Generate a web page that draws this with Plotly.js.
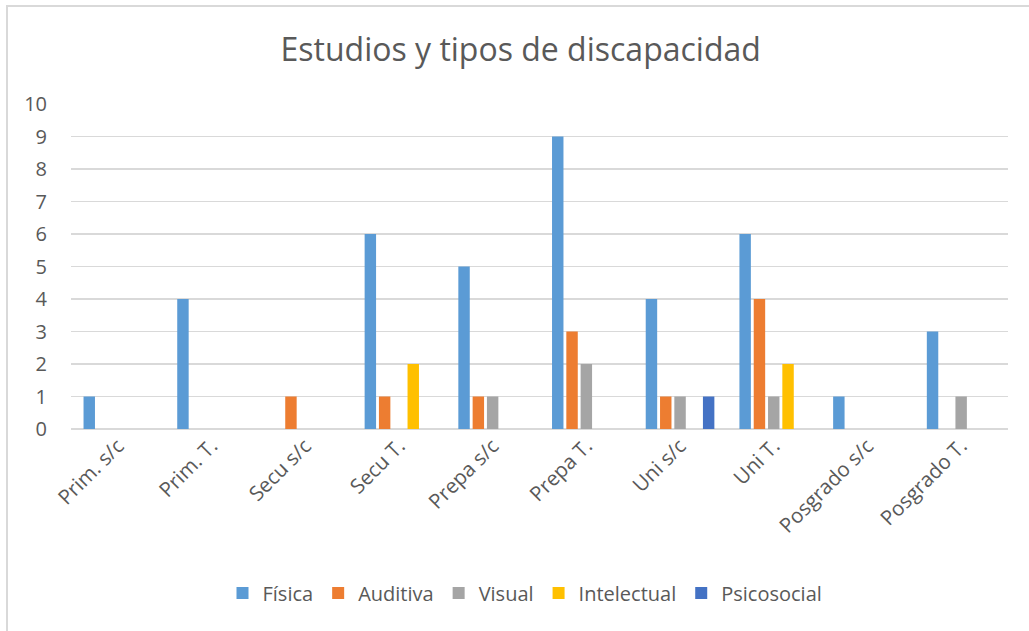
<!DOCTYPE html>
<html>
<head>
<meta charset="utf-8">
<script src="https://cdn.plot.ly/plotly-3.0.1.min.js"></script>
<style>
html,body{margin:0;padding:0;background:#fff;}
#chart{width:1029px;height:631px;}
</style>
</head>
<body>
<div id="chart"></div>
<script>
const categories = ["Prim. s/c","Prim. T.","Secu s/c","Secu T.","Prepa s/c","Prepa T.","Uni s/c","Uni T.","Posgrado s/c","Posgrado T."];
const seriesNames = ["Física","Auditiva","Visual","Intelectual","Psicosocial"];
const fisica      = [1,4,0,6,5,9,4,6,1,3];
const auditiva    = [0,0,1,1,1,3,1,4,0,0];
const visual      = [0,0,0,0,1,2,1,1,0,1];
const intelectual = [0,0,0,2,0,0,0,2,0,0];
const psicosocial = [0,0,0,0,0,0,1,0,0,0];
const yTicks = [0,1,2,3,4,5,6,7,8,9,10];
const colors = ["#5B9BD5","#ED7D31","#A5A5A5","#FFC000","#4472C4"];

const values = [fisica, auditiva, visual, intelectual, psicosocial];
const data = values.map((v, i) => ({
  type: 'bar',
  name: seriesNames[i],
  x: categories,
  y: v,
  marker: {color: colors[i], line: {width: 0}},
  hoverinfo: 'x+y+name'
}));

const L = 71, R = 1008, T = 104, B = 429, W = 1029, H = 631;
const px = v => (v - L) / (R - L);
const py = v => (B - v) / (B - T);

const layout = {
  width: W, height: H,
  margin: {l: L, r: W - R, t: T, b: H - B, pad: 0},
  paper_bgcolor: '#ffffff',
  plot_bgcolor: '#ffffff',
  font: {family: 'Open Sans, sans-serif', color: '#595959', size: 18},
  title: {text: 'Estudios y tipos de discapacidad', font: {size: 32, color: '#595959', family: 'Open Sans, sans-serif'}, x: 0.506, xanchor: 'center', y: 0.921, yanchor: 'middle'},
  barmode: 'group',
  bargap: 0.237,
  bargroupgap: 0.2,
  showlegend: true,
  legend: {orientation: 'h', x: px(525), xanchor: 'center', y: py(593), yanchor: 'middle', font: {size: 20, color: '#595959'}, itemwidth: 30, traceorder: 'normal'},
  xaxis: {
    type: 'category',
    tickangle: -45,
    tickfont: {size: 20.5, color: '#595959'},
    showgrid: false,
    showline: false,
    ticks: '',
    zeroline: false,
    fixedrange: true
  },
  yaxis: {
    range: [0, 10],
    tickvals: yTicks,
    ticktext: yTicks.map(String),
    tickfont: {size: 20, color: '#595959'},
    showgrid: true,
    gridcolor: '#d9d9d9',
    gridwidth: 1.5,
    zeroline: true,
    zerolinecolor: '#d9d9d9',
    zerolinewidth: 1.5,
    showline: false,
    ticks: '',
    ticklabelstandoff: 23,
    fixedrange: true
  },
  shapes: [
    {type: 'line', xref: 'paper', yref: 'paper', x0: px(6), x1: px(1029), y0: py(6), y1: py(6), line: {color: '#d9d9d9', width: 2}},
    {type: 'line', xref: 'paper', yref: 'paper', x0: px(7), x1: px(7), y0: py(5), y1: py(631), line: {color: '#d9d9d9', width: 2}}
  ]
};

Plotly.newPlot('chart', data, layout, {displayModeBar: false, staticPlot: true});
</script>
</body>
</html>
